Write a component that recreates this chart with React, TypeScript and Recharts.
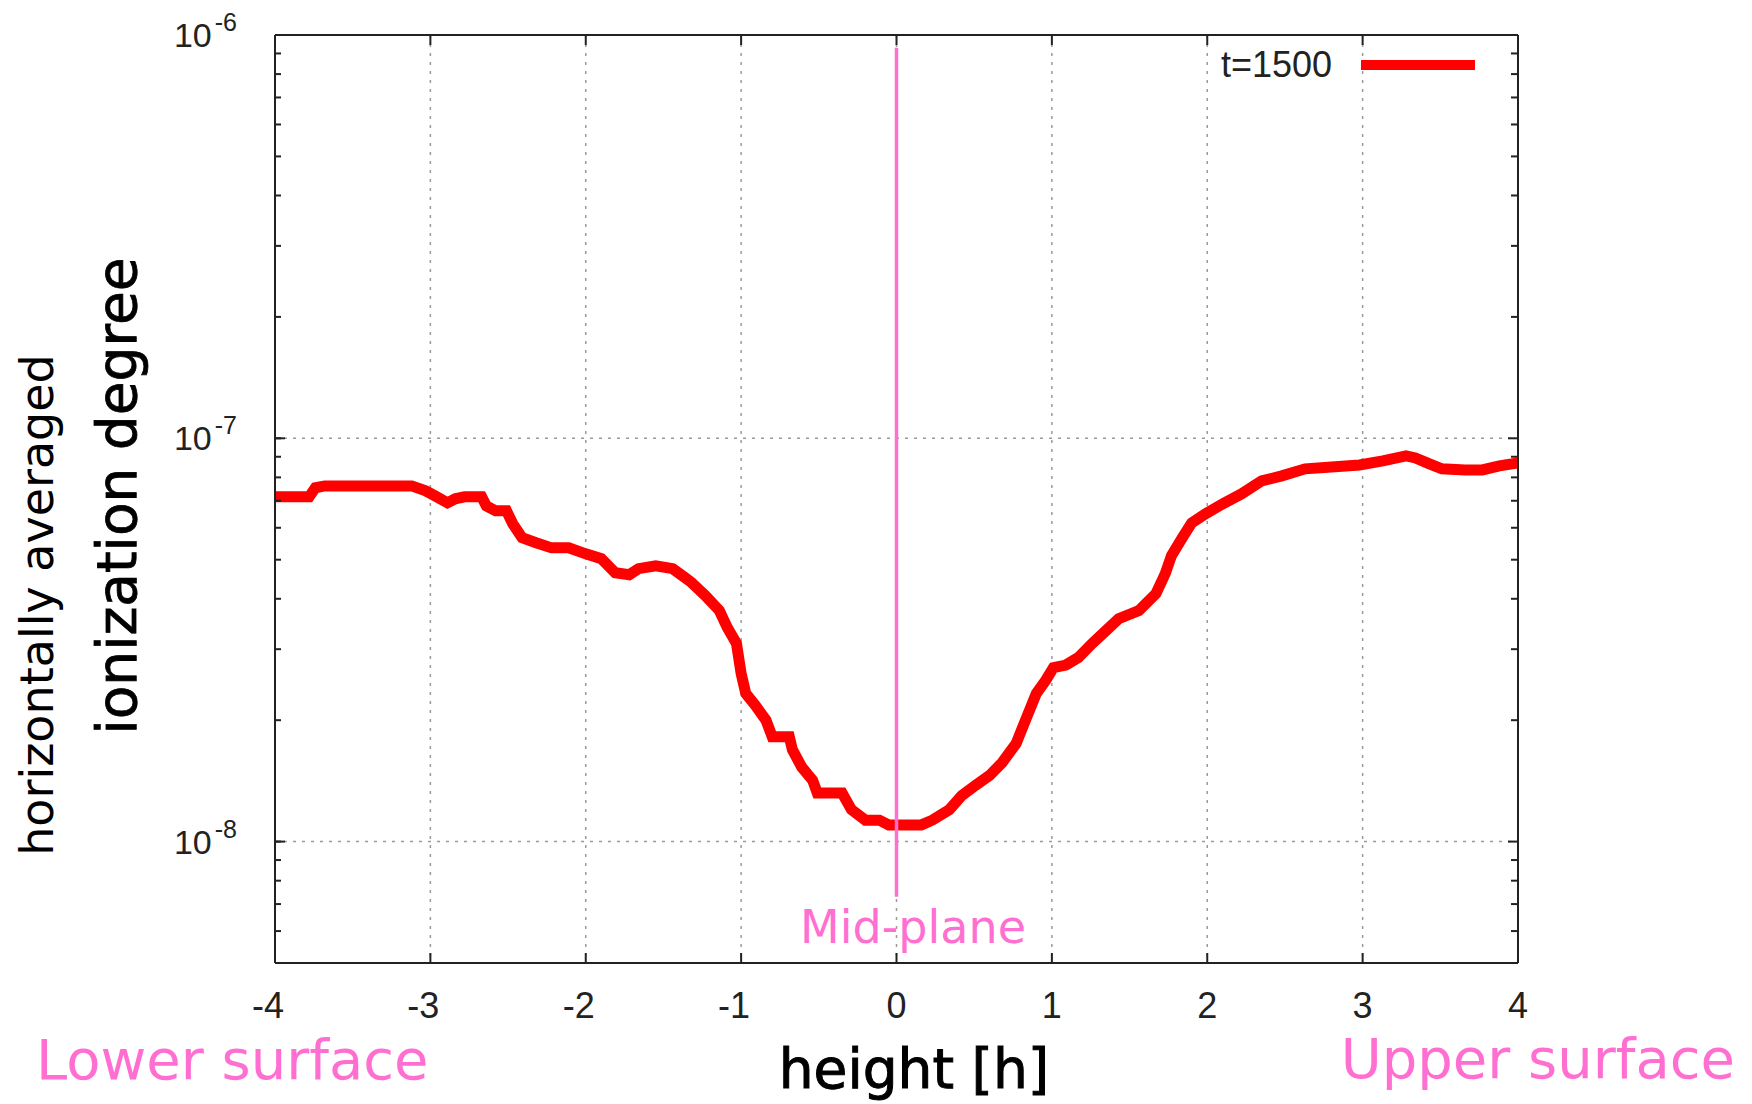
import React from 'react';
import {
  LineChart,
  Line,
  XAxis,
  YAxis,
  CartesianGrid,
  ReferenceLine,
  Legend,
} from 'recharts';

// height [h]
const heights = [
  -4.0, -3.78, -3.74, -3.68, -3.4, -3.12, -3.03, -2.97, -2.89, -2.84, -2.78, -2.67,
  -2.64, -2.58, -2.51, -2.47, -2.41, -2.32, -2.22, -2.11, -2.0, -1.9, -1.81, -1.72,
  -1.66, -1.55, -1.44, -1.36, -1.32, -1.23, -1.14, -1.09, -1.03, -1.0, -0.97, -0.91,
  -0.84, -0.8, -0.69, -0.67, -0.61, -0.54, -0.51, -0.35, -0.29, -0.2, -0.11, -0.05,
  0.16, 0.23, 0.34, 0.42, 0.51, 0.6, 0.68, 0.77, 0.83, 0.9, 0.96, 1.01, 1.09, 1.17,
  1.26, 1.35, 1.43, 1.56, 1.67, 1.73, 1.77, 1.84, 1.9, 1.99, 2.1, 2.22, 2.35, 2.48,
  2.63, 2.8, 2.98, 3.13, 3.28, 3.34, 3.43, 3.51, 3.66, 3.77, 3.88, 4.0,
];

// horizontally averaged ionization degree at t=1500
const ionization = [
  7.16e-8, 7.16e-8, 7.54e-8, 7.62e-8, 7.62e-8, 7.62e-8, 7.41e-8, 7.2e-8, 6.92e-8, 7.08e-8, 7.16e-8, 7.16e-8,
  6.8e-8, 6.61e-8, 6.61e-8, 6.14e-8, 5.67e-8, 5.51e-8, 5.35e-8, 5.35e-8, 5.17e-8, 5.03e-8, 4.64e-8, 4.59e-8,
  4.75e-8, 4.83e-8, 4.75e-8, 4.51e-8, 4.39e-8, 4.07e-8, 3.74e-8, 3.4e-8, 3.1e-8, 2.61e-8, 2.33e-8, 2.18e-8,
  2.0e-8, 1.82e-8, 1.82e-8, 1.69e-8, 1.53e-8, 1.42e-8, 1.32e-8, 1.32e-8, 1.2e-8, 1.13e-8, 1.13e-8, 1.1e-8,
  1.1e-8, 1.13e-8, 1.2e-8, 1.3e-8, 1.38e-8, 1.46e-8, 1.57e-8, 1.75e-8, 2.0e-8, 2.33e-8, 2.51e-8, 2.7e-8, 2.74e-8, 2.86e-8,
  3.1e-8, 3.34e-8, 3.57e-8, 3.74e-8, 4.12e-8, 4.62e-8, 5.12e-8, 5.67e-8, 6.17e-8, 6.5e-8, 6.88e-8, 7.28e-8, 7.84e-8, 8.07e-8,
  8.4e-8, 8.49e-8, 8.59e-8, 8.79e-8, 9.04e-8, 8.94e-8, 8.64e-8, 8.4e-8, 8.35e-8, 8.35e-8, 8.54e-8, 8.69e-8,
];

const xTicks = [-4, -3, -2, -1, 0, 1, 2, 3, 4];
const yTicks = [1e-8, 1e-7, 1e-6];
const yMinorTicks = [
  6e-9, 7e-9, 8e-9, 9e-9,
  2e-8, 3e-8, 4e-8, 5e-8, 6e-8, 7e-8, 8e-8, 9e-8,
  2e-7, 3e-7, 4e-7, 5e-7, 6e-7, 7e-7, 8e-7, 9e-7,
];
const xDomain = [-4, 4];
const yDomain = [5e-9, 1e-6];
const midPlane = [
  { x: 0, y: 7.3e-9 },
  { x: 0, y: 9.3e-7 },
];
const seriesName = 't=1500';

const data = heights.map((h, i) => ({ h, v: ionization[i] }));
const yAllTicks = [...yMinorTicks, ...yTicks].sort((a, b) => a - b);
const isMajor = (v: number) => yTicks.some((t) => Math.abs(v - t) / t < 1e-6);

const PINK = '#ff6fd2';
const AXIS = '#222';
const TICK_FONT = '"Liberation Sans", Arial, sans-serif';
const HAND_FONT = '"Comic Sans MS", "DejaVu Sans", sans-serif';

const MINOR_LEN = 6;
const MAJOR_LEN = 10;
const Y_LABEL_GAP = 44;

const NoLabel = () => <g />;

const XTick = (props: any) => {
  const { x, y, payload } = props;
  const dx = payload.value < 0 ? -7 : 0;
  return (
    <text x={x + dx} y={y} dy="0.71em" textAnchor="middle" fontFamily={TICK_FONT} fontSize={36} fill={AXIS}>
      {String(payload.value)}
    </text>
  );
};

// left axis: minor ticks come from recharts (inward), majors get a longer mark and a 10^n label
const YTick = (props: any) => {
  const { x, y, payload } = props;
  if (!isMajor(payload.value)) return <g />;
  const axisX = x - MINOR_LEN + Y_LABEL_GAP;
  const exp = Math.round(Math.log10(payload.value));
  return (
    <g>
      <line x1={axisX} x2={axisX + MAJOR_LEN} y1={y} y2={y} stroke={AXIS} strokeWidth={2} />
      <text x={axisX - 38} y={y} dy={12} textAnchor="end" fontFamily={TICK_FONT} fill={AXIS}>
        <tspan fontSize={34}>10</tspan>
        <tspan fontSize={25} dx={3} dy={-16}>{String(exp)}</tspan>
      </text>
    </g>
  );
};

const renderLegend = () => (
  <div style={{ display: 'flex', alignItems: 'center', fontFamily: TICK_FONT, fontSize: 36, lineHeight: '36px', color: AXIS }}>
    <span>{seriesName}</span>
    <span style={{ display: 'inline-block', width: 114, height: 10, background: '#ff0000', marginLeft: 29 }} />
  </div>
);

const tickStroke = { stroke: AXIS, strokeWidth: 2 };

export default function App() {
  return (
    <div style={{ position: 'absolute', left: 0, top: 0, width: 1752, height: 1104, background: '#fff' }}>
      <LineChart width={1752} height={1104} data={data} margin={{ top: 35, right: 234, bottom: 81, left: 175 }}>
        <CartesianGrid
          xAxisId="main"
          yAxisId="main"
          stroke="#9a9a9a"
          strokeWidth={1.5}
          strokeDasharray="3 6"
          horizontalValues={yTicks}
          verticalValues={xTicks}
        />
        <XAxis
          xAxisId="main"
          dataKey="h"
          type="number"
          domain={xDomain}
          ticks={xTicks}
          allowDataOverflow
          height={60}
          tickSize={-MAJOR_LEN}
          tickMargin={39}
          axisLine={tickStroke}
          tickLine={tickStroke}
          tick={<XTick />}
        />
        <XAxis
          xAxisId="top"
          dataKey="h"
          orientation="top"
          mirror
          type="number"
          domain={xDomain}
          ticks={xTicks}
          allowDataOverflow
          height={1}
          tick={<NoLabel />}
          tickSize={MAJOR_LEN}
          axisLine={tickStroke}
          tickLine={tickStroke}
        />
        <YAxis
          yAxisId="main"
          scale="log"
          domain={yDomain}
          ticks={yAllTicks}
          interval={0}
          allowDataOverflow
          width={100}
          tickSize={-MINOR_LEN}
          tickMargin={Y_LABEL_GAP}
          axisLine={tickStroke}
          tickLine={tickStroke}
          tick={<YTick />}
        />
        <YAxis
          yAxisId="rightMajor"
          orientation="right"
          scale="log"
          domain={yDomain}
          ticks={yTicks}
          allowDataOverflow
          mirror
          width={1}
          tick={<NoLabel />}
          tickSize={MAJOR_LEN}
          axisLine={tickStroke}
          tickLine={tickStroke}
        />
        <YAxis
          yAxisId="rightMinor"
          orientation="right"
          scale="log"
          domain={yDomain}
          ticks={yMinorTicks}
          interval={0}
          allowDataOverflow
          mirror
          width={1}
          tick={<NoLabel />}
          tickSize={MINOR_LEN}
          axisLine={false}
          tickLine={tickStroke}
        />
        <Legend
          content={renderLegend}
          layout="horizontal"
          verticalAlign="middle"
          wrapperStyle={{ position: 'absolute', top: 47, left: 1221, width: 'auto', height: 'auto' }}
        />
        <Line
          xAxisId="main"
          yAxisId="main"
          type="linear"
          dataKey="v"
          name={seriesName}
          stroke="#ff0000"
          strokeWidth={11}
          strokeLinejoin="miter"
          dot={false}
          activeDot={false}
          isAnimationActive={false}
        />
        <ReferenceLine
          xAxisId="main"
          yAxisId="main"
          segment={midPlane}
          stroke={PINK}
          strokeWidth={3.5}
          ifOverflow="visible"
        />
        <text x={913} y={943} textAnchor="middle" fontFamily={HAND_FONT} fontSize={46} fill={PINK}>
          Mid-plane
        </text>
        <text x={36} y={1079} textAnchor="start" fontFamily={HAND_FONT} fontSize={56} fill={PINK}>
          Lower surface
        </text>
        <text x={1735} y={1078} textAnchor="end" fontFamily={HAND_FONT} fontSize={56} fill={PINK}>
          Upper surface
        </text>
        <text x={914} y={1088} textAnchor="middle" fontFamily={HAND_FONT} fontSize={55} fill="#000" stroke="#000" strokeWidth={1}>
          height [h]
        </text>
        <text transform="translate(53,605) rotate(-90)" textAnchor="middle" fontFamily={HAND_FONT} fontSize={46} fill="#000">
          horizontally averaged
        </text>
        <text transform="translate(136,496) rotate(-90)" textAnchor="middle" fontFamily={HAND_FONT} fontSize={55} fill="#000" stroke="#000" strokeWidth={0.8}>
          ionization degree
        </text>
      </LineChart>
    </div>
  );
}
